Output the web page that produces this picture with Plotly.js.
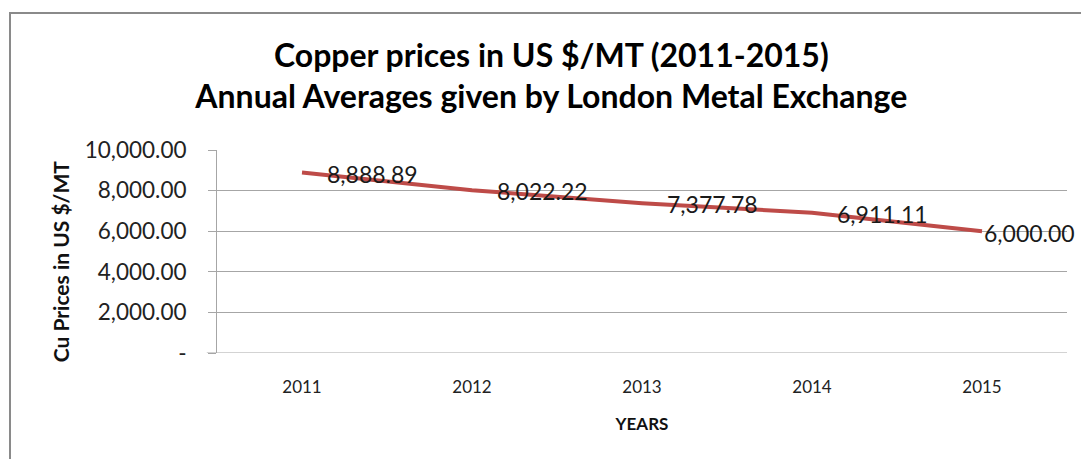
<!DOCTYPE html>
<html>
<head>
<meta charset="utf-8">
<script src="https://cdn.plot.ly/plotly-3.0.1.min.js"></script>
<style>
  html, body { margin: 0; padding: 0; background: #fff; }
  #chart { position: absolute; left: 0; top: 0; width: 1081px; height: 459px; }
  #frame { position: absolute; left: 9px; top: 12px; width: 1090px; height: 460px;
           border-top: 2px solid #8a8a8a; border-left: 2px solid #8a8a8a; pointer-events: none; }
</style>
</head>
<body>
<div id="chart"></div>
<div id="frame"></div>
<script>
const years = ['2011', '2012', '2013', '2014', '2015'];
const prices = [8888.89, 8022.22, 7377.78, 6911.11, 6000.00];
const priceLabels = ['8,888.89', '8,022.22', '7,377.78', '6,911.11', '6,000.00'];
const yTickVals = [0, 2000, 4000, 6000, 8000, 10000];
const yTickText = ['-', '2,000.00', '4,000.00', '6,000.00', '8,000.00', '10,000.00'];

const trace = {
  x: years,
  y: prices,
  type: 'scatter',
  mode: 'lines',
  line: { color: '#be4b48', width: 4 },
  cliponaxis: false,
  hoverinfo: 'skip'
};

// data labels: category axes place annotations by category index
const lastIdx = years.length - 1;
const labelAnnotations = years.map((yr, i) => ({
  x: i,
  y: prices[i],
  xref: 'x',
  yref: 'y',
  text: priceLabels[i],
  showarrow: false,
  xanchor: 'left',
  yanchor: 'middle',
  borderpad: 0,
  xshift: i === lastIdx ? 1 : 24,
  yshift: i === lastIdx ? -2 : -1,
  font: { family: 'Lato, sans-serif', size: 23, color: '#1a1a1a' }
}));

const yTitleAnnotation = {
  text: '<b>Cu Prices in US $/MT</b>',
  xref: 'paper', yref: 'paper',
  x: -0.184, y: 0.45,
  xanchor: 'center', yanchor: 'middle',
  textangle: -90,
  showarrow: false,
  font: { family: 'Lato, sans-serif', size: 21, color: '#111' }
};

const layout = {
  width: 1081,
  height: 459,
  margin: { l: 217, r: 14, t: 150, b: 106 },
  paper_bgcolor: '#ffffff',
  plot_bgcolor: '#ffffff',
  showlegend: false,
  title: {
    text: '<b>Copper prices in US $/MT (2011-2015)</b><br><b>Annual Averages given by London Metal Exchange</b>',
    font: { family: 'Lato, sans-serif', size: 32, color: '#000' },
    x: 0.51, xref: 'container', xanchor: 'center',
    y: 0.855, yref: 'container', yanchor: 'middle'
  },
  xaxis: {
    type: 'category',
    range: [-0.5, 4.5],
    showgrid: false,
    zeroline: false,
    showline: false,
    ticks: '',
    tickfont: { family: 'Lato, sans-serif', size: 17, color: '#222' },
    ticklabelstandoff: 22,
    title: {
      text: '<b>YEARS</b>',
      font: { family: 'Lato, sans-serif', size: 17, color: '#111' },
      standoff: 22
    }
  },
  yaxis: {
    range: [0, 10000],
    tickvals: yTickVals,
    ticktext: yTickText,
    showgrid: true,
    gridcolor: '#a6a6a6',
    gridwidth: 1,
    zeroline: false,
    showline: true,
    linecolor: '#a6a6a6',
    linewidth: 1,
    ticks: 'outside',
    ticklen: 8,
    tickcolor: '#a6a6a6',
    tickfont: { family: 'Lato, sans-serif', size: 22.5, color: '#222' },
    ticklabelstandoff: 17
  },
  annotations: labelAnnotations.concat([yTitleAnnotation]),
  shapes: [
    { type: 'line', xref: 'paper', yref: 'y', x0: -0.012, x1: 1, y0: 0, y1: 0,
      line: { color: '#a6a6a6', width: 1 } }
  ]
};

Plotly.newPlot('chart', [trace], layout, { staticPlot: true, displayModeBar: false });
</script>
</body>
</html>
